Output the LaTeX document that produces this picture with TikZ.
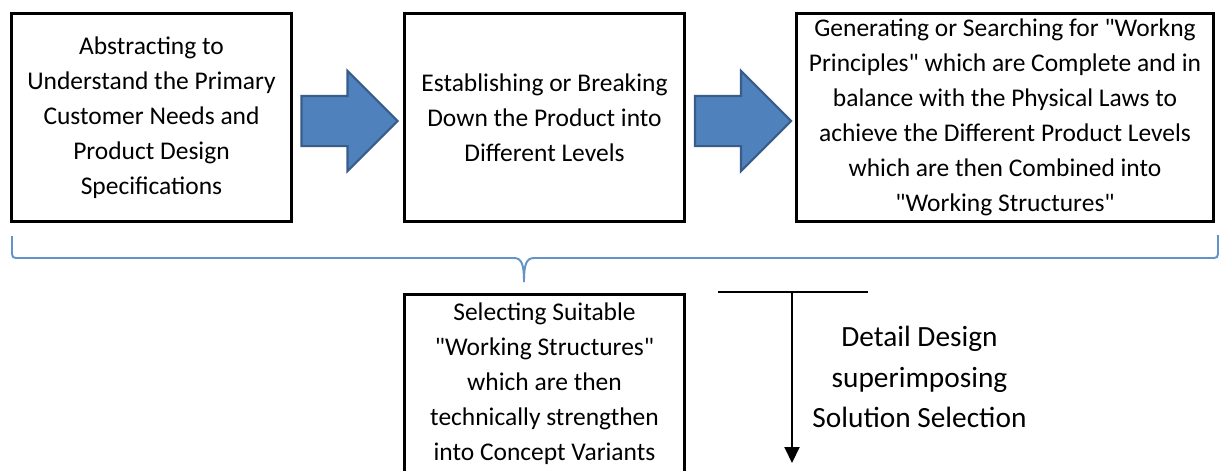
\documentclass[tikz,border=0pt]{standalone}
\usepackage{fontspec}
\setmainfont{Carlito}
\usepackage{tikz}
\usetikzlibrary{calc, positioning, arrows.meta, shapes.arrows}
\usepackage{xcolor}
\definecolor{arrowFill}{RGB}{79, 129, 189}
\definecolor{arrowEdge}{RGB}{56, 93, 138}
\definecolor{braceBlue}{RGB}{100, 146, 202}
\newcommand{\stagefont}{\fontsize{14.5}{19.9}\selectfont}
\newcommand{\notefont}{\fontsize{16.7}{23.2}\selectfont}
\newcommand{\qq}{\textquotedbl}

\begin{document}
\begin{tikzpicture}[>=Stealth,
  stagebox/.style={draw, line width=1.7pt, align=center, inner sep=0pt,
                   minimum height=4.16cm, font=\stagefont},
  blockarrow/.style={single arrow, draw=arrowEdge, fill=arrowFill, line width=1.2pt,
                     minimum height=1.92cm, inner xsep=0pt, inner ysep=0.48cm,
                     single arrow head extend=0.5cm}]
  \useasboundingbox[fill=white] (0,0) rectangle (24.38,-9.4);

  % Stage boxes
  \node[stagebox, minimum width=5.6cm] (abstract) at (3.03,-2.35)
    {Abstracting to\\Understand the Primary\\Customer Needs and\\Product Design\\Specifications};
  \node[stagebox, minimum width=5.6cm] (levels) at (10.89,-2.35)
    {Establishing or Breaking\\Down the Product into\\Different Levels};
  \node[stagebox, minimum width=8.34cm] (principles) at (20.10,-2.35)
    {Generating or Searching for \qq Workng\\Principles\qq\ which are Complete and in\\balance with the Physical Laws to\\achieve the Different Product Levels\\which are then Combined into\\\qq Working Structures\qq};

  % Block arrows between the stages
  \node[blockarrow] (step1) at (6.74,-2.42) {};
  \node[blockarrow] (step2) at (14.61,-2.42) {};

  % Brace gathering the three stages
  \coordinate (brace l) at (0.24,-4.72);
  \coordinate (brace tip) at (10.48,-5.64);
  \coordinate (brace r) at (24.36,-4.70);
  \draw[braceBlue, line width=1.1pt]
    (brace l) -- ++(0,-0.36) .. controls +(0,-0.06) and +(-0.05,0) .. ++(0.08,-0.08)
    -- (10.28,-5.16) .. controls (10.44,-5.16) and (10.48,-5.30) .. (brace tip)
    .. controls (10.48,-5.30) and (10.52,-5.16) .. (10.68,-5.16)
    -- (24.28,-5.16) .. controls +(0.05,0) and +(0,-0.06) .. ++(0.08,0.08)
    -- (brace r);

  % Selection stage
  \node[stagebox, minimum width=5.6cm, minimum height=3.58cm] (select) at (10.89,-7.68)
    {Selecting Suitable\\\qq Working Structures\qq\\which are then\\technically strengthen\\into Concept Variants};

  % Detail design arrow
  \coordinate (bar l) at (14.36,-5.84);
  \coordinate (bar r) at (17.36,-5.84);
  \coordinate (bar m) at (15.84,-5.84);
  \coordinate (bar end) at (15.84,-9.26);
  \draw[line width=0.9pt] (bar l) -- (bar r);
  \draw[line width=1.1pt, -{Triangle[length=0.32cm, width=0.3cm]}] (bar m) -- (bar end);
  \node[align=center, font=\notefont] (detail) at (18.39,-7.54)
    {Detail Design\\superimposing\\Solution Selection};
\end{tikzpicture}
\end{document}
